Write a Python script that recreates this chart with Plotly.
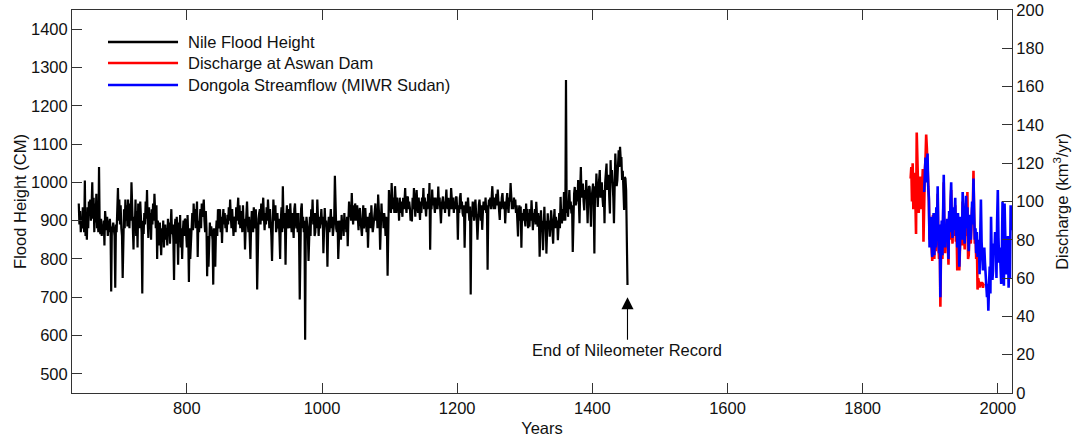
import plotly.graph_objects as go

# ---------------- data ----------------
SERIES_NAMES = ["Nile Flood Height", "Discharge at Aswan Dam", "Dongola Streamflow (MIWR Sudan)"]
SERIES_COLORS = ["#000000", "#ff0000", "#0000ff"]

NILE_START_YEAR = 640
nile_flood_cm = [
    945, 890, 925, 870, 905, 880, 935, 885, 870, 1005,
    860, 900, 850, 935, 880, 950, 925, 955, 900, 940,
    1000, 905, 960, 870, 945, 895, 970, 880, 900, 870,
    1040, 880, 865, 905, 860, 890, 870, 900, 835, 925,
    895, 875, 910, 860, 900, 870, 905, 880, 715, 885,
    870, 895, 880, 860, 725, 890, 870, 930, 985, 900,
    955, 890, 940, 880, 860, 750, 900, 930, 880, 955,
    900, 940, 885, 955, 920, 880, 945, 900, 1000, 930,
    880, 825, 910, 880, 955, 860, 925, 830, 945, 900,
    880, 950, 920, 870, 710, 900, 865, 920, 890, 950,
    905, 980, 900, 855, 935, 880, 920, 850, 930, 890,
    945, 900, 970, 915, 880, 940, 800, 900, 870, 835,
    895, 860, 810, 880, 845, 900, 830, 870, 890, 850,
    880, 835, 905, 860, 895, 840, 875, 930, 865, 890,
    850, 745, 880, 905, 840, 910, 870, 785, 895, 860,
    915, 830, 880, 800, 870, 900, 860, 905, 900, 870,
    830, 915, 860, 740, 880, 800, 860, 895, 920, 875,
    945, 900, 930, 880, 920, 950, 805, 900, 870, 915,
    930, 880, 945, 910, 935, 955, 900, 870, 925, 880,
    755, 860, 780, 880, 895, 860, 885, 870, 850, 733,
    880, 815, 780, 870, 900, 860, 930, 895, 880, 930,
    870, 910, 842, 900, 930, 890, 920, 880, 905, 870,
    915, 890, 935, 900, 955, 910, 880, 930, 895, 860,
    905, 910, 870, 935, 900, 920, 960, 890, 940, 880,
    925, 910, 870, 940, 885, 905, 825, 880, 920, 950,
    900, 870, 910, 860, 800, 880, 925, 900, 870, 935,
    910, 880, 930, 870, 720, 880, 905, 920, 930, 890,
    945, 900, 930, 960, 910, 875, 920, 890, 935, 900,
    955, 910, 880, 930, 900, 860, 795, 900, 955, 920,
    900, 940, 870, 885, 920, 880, 905, 860, 800, 900,
    935, 870, 990, 900, 880, 920, 785, 900, 940, 880,
    910, 930, 880, 945, 905, 870, 920, 890, 855, 930,
    945, 900, 880, 920, 870, 920, 860, 694, 900, 930,
    945, 880, 910, 870, 900, 589, 880, 910, 890, 870,
    795, 880, 910, 860, 930, 900, 955, 890, 920, 860,
    870, 920, 880, 955, 900, 860, 910, 880, 900, 930,
    890, 910, 815, 880, 933, 890, 900, 870, 780, 880,
    910, 870, 900, 930, 880, 910, 860, 885, 900, 1017,
    910, 880, 870, 900, 800, 860, 900, 880, 850, 915,
    880, 900, 860, 920, 880, 900, 870, 910, 833, 900,
    950, 910, 930, 900, 972, 920, 890, 940, 900, 945,
    930, 900, 940, 910, 875, 920, 933, 900, 880, 860,
    900, 940, 880, 910, 933, 900, 870, 910, 829, 890,
    900, 920, 880, 940, 900, 870, 885, 910, 930, 945,
    900, 930, 880, 968, 930, 900, 824, 910, 945, 900,
    920, 880, 920, 900, 860, 910, 880, 756, 900, 980,
    940, 960, 920, 998, 950, 930, 960, 920, 990, 950,
    920, 960, 930, 945, 900, 960, 920, 950, 937, 910,
    960, 930, 950, 985, 940, 920, 960, 963, 930, 950,
    933, 900, 920, 898, 960, 930, 985, 940, 910, 950,
    980, 940, 920, 960, 930, 902, 950, 920, 960, 940,
    985, 930, 960, 920, 911, 950, 930, 970, 940, 998,
    824, 950, 930, 981, 940, 960, 920, 920, 960, 930,
    950, 930, 989, 940, 960, 920, 893, 940, 960, 963,
    930, 950, 920, 960, 981, 940, 930, 960, 911, 950,
    930, 985, 950, 930, 960, 920, 950, 930, 960, 963,
    930, 850, 940, 920, 960, 972, 930, 950, 920, 911,
    940, 829, 920, 950, 930, 920, 960, 930, 900, 937,
    707, 920, 911, 950, 930, 900, 940, 955, 920, 900,
    850, 930, 940, 955, 920, 900, 940, 876, 920, 950,
    930, 930, 960, 920, 940, 772, 930, 955, 940, 960,
    930, 970, 990, 950, 930, 960, 930, 950, 970, 940,
    981, 950, 930, 902, 950, 930, 960, 972, 940, 930,
    950, 893, 930, 960, 972, 940, 920, 960, 950, 998,
    960, 930, 950, 930, 960, 940, 955, 920, 940, 900,
    859, 920, 940, 900, 937, 829, 920, 900, 910, 930,
    900, 885, 945, 900, 930, 880, 920, 884, 930, 900,
    953, 910, 875, 920, 900, 930, 890, 949, 910, 884,
    920, 900, 806, 910, 927, 880, 900, 823, 900, 936,
    880, 900, 814, 890, 919, 880, 900, 858, 890, 927,
    900, 880, 840, 900, 930, 880, 910, 893, 900, 849,
    900, 920, 880, 962, 910, 893, 930, 900, 975, 930,
    900, 1267, 920, 950, 910, 940, 980, 930, 950, 919,
    940, 818, 950, 970, 988, 940, 945, 980, 950, 1006,
    950, 893, 980, 1040, 960, 990, 997, 950, 927, 980,
    960, 1006, 950, 893, 960, 990, 988, 940, 884, 960,
    980, 997, 950, 814, 990, 960, 1023, 990, 936, 980,
    1000, 1032, 960, 988, 1000, 960, 936, 980, 893, 1000,
    1030, 1049, 980, 1006, 1020, 960, 919, 1058, 1000, 1032,
    1000, 960, 893, 1040, 1075, 1030, 990, 1006, 1050, 1084,
    1040, 1093, 1060, 1066, 1006, 1030, 980, 928, 1014, 1010,
    980, 884, 732,
]

ASWAN_START_YEAR = 1871
aswan_discharge = [
    112, 118, 100, 120, 96, 110, 115, 102, 83,
    136, 118, 108, 94, 104, 113, 96, 99, 108, 117, 79,
    108, 116, 122, 135, 128, 120, 110, 100, 80, 89,
    90, 76, 69, 93, 90, 70, 83, 74, 95, 85,
    104, 78, 70, 86, 45, 77, 88, 70, 93, 110,
    82, 73, 85, 78, 89, 68, 67, 92, 80, 97,
    106, 85, 78, 93, 82, 88, 98, 79, 87, 64,
    90, 80, 64, 75, 89, 84, 77, 100, 87, 80,
    75, 90, 99, 82, 105, 70, 72, 86, 90, 78,
    92, 97, 96, 116, 92, 78, 84, 70, 80, 54,
    60, 56, 55, 58, 56, 58, 57, 55, 57, 57,
]

DONGOLA_START_YEAR = 1891
dongola_discharge = [
    105, 118, 123, 110, 119, 125, 108, 102, 76,
    88, 92, 79, 71, 85, 94, 72, 84, 76, 97, 86,
    108, 80, 73, 88, 50, 79, 90, 72, 96, 114,
    85, 76, 88, 80, 91, 81, 70, 95, 84, 100,
    110, 88, 81, 97, 85, 91, 102, 82, 90, 76,
    94, 84, 66, 78, 92, 87, 80, 105, 90, 83,
    78, 94, 103, 86, 97, 85, 74, 88, 93, 80,
    95, 100, 88, 112, 94, 80, 86, 73, 84, 71,
    78, 80, 62, 88, 101, 79, 70, 64, 72, 76,
    68, 60, 59, 50, 57, 43, 56, 66, 52, 92,
    70, 59, 64, 78, 73, 84, 82, 60, 90, 106,
    81, 68, 76, 60, 57, 73, 100, 77, 56, 99,
    78, 66, 62, 75, 82, 55, 72, 60, 98, 85,
]

X_TICKS = [800, 1000, 1200, 1400, 1600, 1800, 2000]
Y_LEFT_TICKS = [500, 600, 700, 800, 900, 1000, 1100, 1200, 1300, 1400]
Y_RIGHT_TICKS = [0, 20, 40, 60, 80, 100, 120, 140, 160, 180, 200]
X_RANGE = [630, 2021]
Y_LEFT_RANGE = [450, 1450]
Y_RIGHT_RANGE = [0, 200]

END_OF_RECORD_LABEL = "End of Nileometer Record"
END_OF_RECORD_YEAR = 1452
END_OF_RECORD_LEVEL = 700

# ---------------- figure ----------------
FONT = "Liberation Sans, Arial, Helvetica, sans-serif"
FS = 16.5
TEXT_COLOR = "#111111"
AXIS_COLOR = "#333333"

nile_years = list(range(NILE_START_YEAR, NILE_START_YEAR + len(nile_flood_cm)))
aswan_years = list(range(ASWAN_START_YEAR, ASWAN_START_YEAR + len(aswan_discharge)))
dongola_years = list(range(DONGOLA_START_YEAR, DONGOLA_START_YEAR + len(dongola_discharge)))

fig = go.Figure()
fig.add_trace(go.Scatter(x=nile_years, y=nile_flood_cm, mode="lines", name=SERIES_NAMES[0],
                         line=dict(color=SERIES_COLORS[0], width=2.2), yaxis="y"))
fig.add_trace(go.Scatter(x=aswan_years, y=aswan_discharge, mode="lines", name=SERIES_NAMES[1],
                         line=dict(color=SERIES_COLORS[1], width=2.6), yaxis="y2"))
fig.add_trace(go.Scatter(x=dongola_years, y=dongola_discharge, mode="lines", name=SERIES_NAMES[2],
                         line=dict(color=SERIES_COLORS[2], width=2.6), yaxis="y2"))

# legend drawn manually (long sample lines like the reference)
legend_rows_y = [0.9164, 0.8616, 0.8042]
shapes = []
annotations = []
for name, color, yy in zip(SERIES_NAMES, SERIES_COLORS, legend_rows_y):
    shapes.append(dict(type="line", xref="paper", yref="paper", x0=0.0383, x1=0.1128,
                       y0=yy, y1=yy, line=dict(color=color, width=2.5)))
    annotations.append(dict(xref="paper", yref="paper", x=0.1215, y=yy, text=name,
                            showarrow=False, xanchor="left", yanchor="middle",
                            font=dict(family=FONT, size=FS, color=TEXT_COLOR)))

annotations.append(dict(x=END_OF_RECORD_YEAR, y=END_OF_RECORD_LEVEL, xref="x", yref="y",
                        text=END_OF_RECORD_LABEL, showarrow=True, ax=0, ay=53,
                        arrowhead=2, arrowsize=2.2, arrowwidth=1.1, arrowcolor="#000000",
                        standoff=0, font=dict(family=FONT, size=FS, color=TEXT_COLOR)))

common_axis = dict(showgrid=False, zeroline=False, showline=True, linecolor=AXIS_COLOR,
                   linewidth=1, ticks="inside", ticklen=10, tickcolor=AXIS_COLOR,
                   automargin=False,
                   tickfont=dict(family=FONT, size=FS, color=TEXT_COLOR))

fig.update_layout(
    width=1075, height=440,
    margin=dict(l=72, r=63, t=10, b=47),
    paper_bgcolor="white", plot_bgcolor="white",
    showlegend=False,
    font=dict(family=FONT, size=FS, color=TEXT_COLOR),
    xaxis=dict(range=X_RANGE, tickvals=X_TICKS, mirror="ticks",
               title=dict(text="Years", font=dict(family=FONT, size=FS), standoff=6),
               **common_axis),
    yaxis=dict(range=Y_LEFT_RANGE, tickvals=Y_LEFT_TICKS,
               title=dict(text="Flood Height (CM)", font=dict(family=FONT, size=FS), standoff=0),
               **common_axis),
    yaxis2=dict(range=Y_RIGHT_RANGE, tickvals=Y_RIGHT_TICKS, overlaying="y", side="right",
                title=dict(text="Discharge (km<sup>3</sup>/yr)", font=dict(family=FONT, size=FS), standoff=13),
                **common_axis),
    shapes=shapes,
    annotations=annotations,
)

fig.write_html("out.html")
